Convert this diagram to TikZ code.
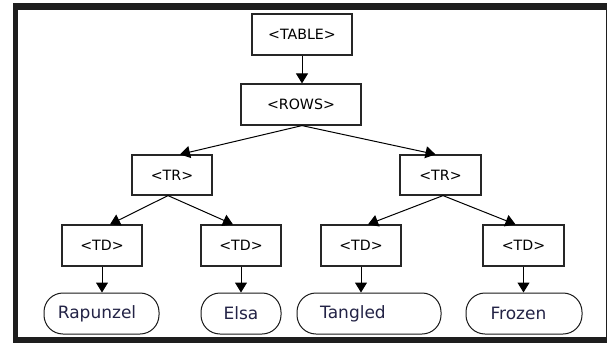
\documentclass[tikz,border=0pt]{standalone}
\usepackage{fontspec}
\setmainfont{DejaVu Sans}
\usetikzlibrary{arrows.meta}
\definecolor{ovaltext}{RGB}{35,35,70}
\definecolor{framedark}{RGB}{30,30,30}
\begin{document}
\begin{tikzpicture}[x=1pt,y=-1pt,
  tagbox/.style={draw=black!85,line width=1.2pt,minimum width=#1,minimum height=41pt,inner sep=0pt,font=\fontsize{14.2}{16}\selectfont},
  oval/.style={draw=black!90,line width=1pt,rounded corners=19pt,minimum width=#1,minimum height=41pt,inner sep=0pt,font=\fontsize{17}{20}\selectfont,text=ovaltext},
  arr/.style={-{Triangle[length=10pt,width=12pt]},line width=1pt,draw=black}]
\useasboundingbox (0,0) rectangle (608,343);
% window frame
\fill[framedark] (13,3) rectangle (606.5,343);
\fill[white] (17.5,10) rectangle (605.5,337);
% nodes
\node[tagbox=100pt] (table) at (302,34.5) {<TABLE>};
\node[tagbox=120pt] (rows) at (301,104.5) {<ROWS>};
\node[tagbox=80pt,minimum height=40pt] (trl) at (172,175) {<TR>};
\node[tagbox=81pt,minimum height=40pt] (trr) at (440.5,175) {<TR>};
\node[tagbox=80pt] (td1) at (102,245.5) {<TD>};
\node[tagbox=80pt] (td2) at (241,245.5) {<TD>};
\node[tagbox=80pt] (td3) at (361,245.5) {<TD>};
\node[tagbox=81pt] (td4) at (523.5,245.5) {<TD>};
\node[oval=115pt] (rap) at (101.5,313.5) {\hspace*{-9pt}\raisebox{-2pt}{Rapunzel}};
\node[oval=80pt] (elsa) at (241,313.5) {\raisebox{-2pt}{Elsa}};
\node[oval=144pt] (tang) at (369,313.5) {\hspace*{-32pt}\raisebox{-3pt}{Tangled}};
\node[oval=116pt] (froz) at (524,313.5) {\hspace*{-11pt}\raisebox{-2pt}{Frozen}};
% connectors
\draw[arr] (table.south) -- (table.south |- rows.north);
\draw[arr] ([xshift=1pt]rows.south) -- ([xshift=8pt]trl.north);
\draw[arr] ([xshift=1pt]rows.south) -- ([xshift=-5pt]trr.north);
\draw[arr] ([xshift=-4pt]trl.south) -- ([xshift=8pt]td1.north);
\draw[arr] ([xshift=-4pt]trl.south) -- ([xshift=-8pt]td2.north);
\draw[arr] ([xshift=2.5pt]trr.south) -- ([xshift=7pt]td3.north);
\draw[arr] ([xshift=2.5pt]trr.south) -- ([xshift=-8pt]td4.north);
\draw[arr] (td1.south) -- (td1.south |- rap.north);
\draw[arr] (td2.south) -- (td2.south |- elsa.north);
\draw[arr] (td3.south) -- (td3.south |- tang.north);
\draw[arr] (td4.south) -- (td4.south |- froz.north);
\end{tikzpicture}
\end{document}
